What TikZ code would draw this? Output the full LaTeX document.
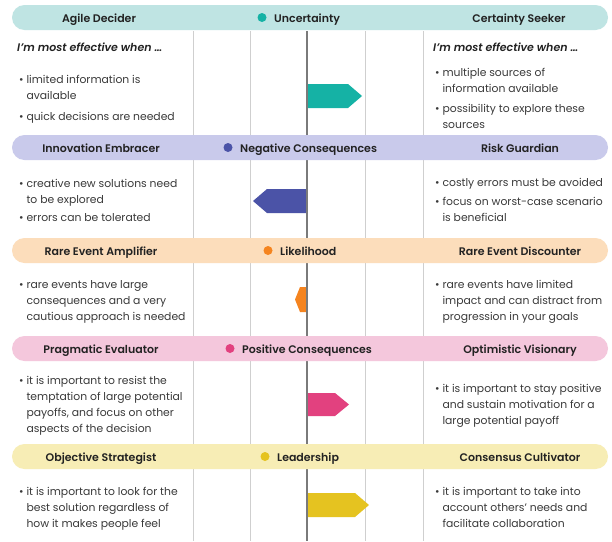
\documentclass[tikz,border=0pt]{standalone}
\usepackage{fontspec}
\setmainfont{Poppins}[BoldFont={Poppins SemiBold}, BoldItalicFont={Poppins SemiBold Italic}]
\begin{document}
\definecolor{txt}{HTML}{3A3A3A}
\definecolor{hd}{HTML}{222222}
\definecolor{gridc}{HTML}{CFCFCF}
\definecolor{axisc}{HTML}{7A7A7A}
\definecolor{barA}{HTML}{BFE4E3}\definecolor{dotA}{HTML}{15B2A5}
\definecolor{barB}{HTML}{C9CAEB}\definecolor{dotB}{HTML}{4B53A7}
\definecolor{barC}{HTML}{FCDDBB}\definecolor{dotC}{HTML}{F5841F}
\definecolor{barD}{HTML}{F4C7DC}\definecolor{dotD}{HTML}{E2417F}
\definecolor{barE}{HTML}{F7EDB5}\definecolor{dotE}{HTML}{E5C320}
\newcommand{\ind}{\phantom{\textbullet\ }}
% bullet blocks are placed by the baseline of their last line (16pt line pitch)
\begin{tikzpicture}[x=1pt,y=-1pt,
  band/.style={rounded corners=12.5pt},
  hdr/.style={font=\fontsize{11}{12}\selectfont\bfseries, text=hd, inner sep=0pt, anchor=base},
  lead/.style={font=\fontsize{11}{12}\selectfont\bfseries\itshape, text=hd, inner sep=0pt, anchor=base west},
  body/.style={font=\fontsize{10.8}{16}\selectfont, text=txt, align=left, inner sep=0pt, anchor=base west},
  marker/.style={circle, inner sep=0pt, minimum size=9pt},
  gridline/.style={draw=gridc, line width=1pt},
  axisline/.style={draw=axisc, line width=1.8pt},
]
\useasboundingbox (0,0) rectangle (612,541);
\fill[white] (0,0) rectangle (612,541);

% scale grid
\foreach \x in {193,250,365,423} \draw[gridline] (\x,31) -- (\x,541);

% rating pointers
\fill[dotA] (307,84) -- (348,84) -- (362,96) -- (348,108) -- (307,108) -- cycle;
\fill[dotB] (307,189) -- (267,189) -- (253,201) -- (267,213) -- (307,213) -- cycle;
\fill[dotC] (307,287) -- (300,287) -- (295,299.5) -- (300,312) -- (307,312) -- cycle;
\fill[dotD] (307,393) -- (335,393) -- (349,404.5) -- (335,416) -- (307,416) -- cycle;
\fill[dotE] (307,493) -- (355,493) -- (369,505) -- (355,517) -- (307,517) -- cycle;

\draw[axisline] (307,31) -- (307,541);

% dimension bands
\fill[barA, band] (12,5) rectangle (608,30);
\fill[barB, band] (12,135) rectangle (608,160);
\fill[barC, band] (12,238) rectangle (608,263);
\fill[barD, band] (12,336) rectangle (608,361);
\fill[barE, band] (12,444) rectangle (608,469);

% band 1
\node[hdr] (a1) at (99,22) {Agile Decider};
\node[marker, fill=dotA] (ad) at (262,17.5) {};
\node[hdr, anchor=base west] (am) at (274,22) {Uncertainty};
\node[hdr] (a2) at (519,22) {Certainty Seeker};
\node[lead] (aL) at (17,51) {I’m most effective when …};
\node[lead] (aR) at (433,51) {I’m most effective when …};
\node[body] (al1) at (19,99) {\textbullet\ limited information is\\\ind available};
\node[body] (al2) at (19,120) {\textbullet\ quick decisions are needed};
\node[body] (ar1) at (435,92) {\textbullet\ multiple sources of\\\ind information available};
\node[body] (ar2) at (435,128) {\textbullet\ possibility to explore these\\\ind sources};

% band 2
\node[hdr] (b1) at (101,152) {Innovation Embracer};
\node[marker, fill=dotB] (bd) at (228,147.5) {};
\node[hdr, anchor=base west] (bm) at (240,152) {Negative Consequences};
\node[hdr] (b2) at (520,152) {Risk Guardian};
\node[body] (bl1) at (19,203) {\textbullet\ creative new solutions need\\\ind to be explored};
\node[body] (bl2) at (19,221) {\textbullet\ errors can be tolerated};
\node[body] (br1) at (435,186) {\textbullet\ costly errors must be avoided};
\node[body] (br2) at (435,221) {\textbullet\ focus on worst-case scenario\\\ind is beneficial};

% band 3
\node[hdr] (c1) at (101,255) {Rare Event Amplifier};
\node[marker, fill=dotC] (cd) at (268,250.5) {};
\node[hdr, anchor=base west] (cm) at (280,255) {Likelihood};
\node[hdr] (c2) at (520,255) {Rare Event Discounter};
\node[body] (cl1) at (19,320) {\textbullet\ rare events have large\\\ind consequences and a very\\\ind cautious approach is needed};
\node[body] (cr1) at (435,320) {\textbullet\ rare events have limited\\\ind impact and can distract from\\\ind progression in your goals};

% band 4
\node[hdr] (d1) at (101,353) {Pragmatic Evaluator};
\node[marker, fill=dotD] (dd) at (230,348.5) {};
\node[hdr, anchor=base west] (dm) at (242,353) {Positive Consequences};
\node[hdr] (d2) at (520,353) {Optimistic Visionary};
\node[body] (dl1) at (19,432) {\textbullet\ it is important to resist the\\\ind temptation of large potential\\\ind payoffs, and focus on other\\\ind aspects of the decision};
\node[body] (dr1) at (435,424) {\textbullet\ it is important to stay positive\\\ind and sustain motivation for a\\\ind large potential payoff};

% band 5
\node[hdr] (e1) at (101,461) {Objective Strategist};
\node[marker, fill=dotE] (ed) at (265,456.5) {};
\node[hdr, anchor=base west] (em) at (277,461) {Leadership};
\node[hdr] (e2) at (520,461) {Consensus Cultivator};
\node[body] (el1) at (19,527) {\textbullet\ it is important to look for the\\\ind best solution regardless of\\\ind how it makes people feel};
\node[body] (er1) at (435,527) {\textbullet\ it is important to take into\\\ind account others’ needs and\\\ind facilitate collaboration};
\end{tikzpicture}
\end{document}
